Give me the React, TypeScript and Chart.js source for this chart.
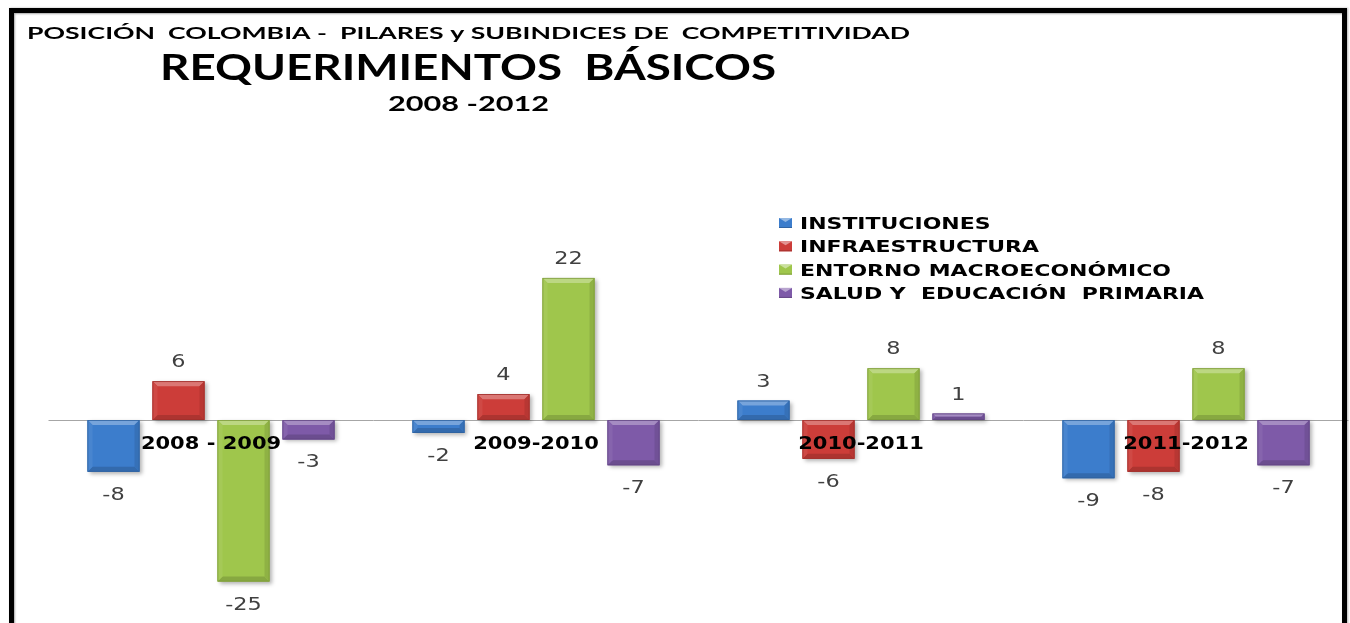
import React, { useEffect, useRef } from 'react';
import { Chart, registerables } from 'chart.js';
Chart.register(...registerables);

const CATEGORIES = ['2008 - 2009', '2009-2010', '2010-2011', '2011-2012'];
const SERIES_NAMES = ['INSTITUCIONES', 'INFRAESTRUCTURA', 'ENTORNO MACROECONÓMICO', 'SALUD Y  EDUCACIÓN  PRIMARIA'];
const INSTITUCIONES = [-8, -2, 3, -9];
const INFRAESTRUCTURA = [6, 4, -6, -8];
const ENTORNO = [-25, 22, 8, 8];
const SALUD = [-3, -7, 1, -7];
const TITLE_1 = 'POSICIÓN  COLOMBIA -  PILARES y SUBINDICES DE  COMPETITIVIDAD';
const TITLE_2 = 'REQUERIMIENTOS  BÁSICOS';
const TITLE_3 = '2008 -2012';

const COLORS = ['#3c7dcc', '#cc3d39', '#9fc64c', '#7e5aa8'];

function mix(hex: string, target: number, amt: number) {
  const n = parseInt(hex.slice(1), 16);
  const r = (n >> 16) & 255, g = (n >> 8) & 255, b = n & 255;
  const f = (c: number) => Math.round(c + (target - c) * amt);
  return `rgb(${f(r)},${f(g)},${f(b)})`;
}
const lighten = (h: string, a: number) => mix(h, 255, a);
const darken = (h: string, a: number) => mix(h, 0, a);

function drawText(ctx: CanvasRenderingContext2D, text: string, x: number, y: number, font: string, color: string, sx: number, align: 'left' | 'center') {
  ctx.save();
  ctx.font = font;
  ctx.fillStyle = color;
  ctx.textBaseline = 'alphabetic';
  ctx.textAlign = 'left';
  const w = ctx.measureText(text).width * sx;
  const x0 = align === 'center' ? x - w / 2 : x;
  ctx.translate(x0, y);
  ctx.scale(sx, 1);
  ctx.fillText(text, 0, 0);
  ctx.restore();
}

function fitText(ctx: CanvasRenderingContext2D, text: string, x: number, y: number, font: string, color: string, width: number) {
  ctx.save();
  ctx.font = font;
  const sx = width / ctx.measureText(text).width;
  ctx.restore();
  drawText(ctx, text, x, y, font, color, sx, 'left');
}

function poly(ctx: CanvasRenderingContext2D, pts: number[][], color: string) {
  ctx.beginPath();
  ctx.moveTo(pts[0][0], pts[0][1]);
  for (let i = 1; i < pts.length; i++) ctx.lineTo(pts[i][0], pts[i][1]);
  ctx.closePath();
  ctx.fillStyle = color;
  ctx.fill();
}

const decorPlugin = {
  id: 'decor',
  beforeDatasetsDraw(chart: any) {
    const ctx = chart.ctx as CanvasRenderingContext2D;
    const { left, right } = chart.chartArea;
    const y0 = Math.round(chart.scales.y.getPixelForValue(0)) + 0.5;
    ctx.save();
    ctx.strokeStyle = '#a6a6a6';
    ctx.lineWidth = 1;
    ctx.beginPath();
    ctx.moveTo(left, y0);
    ctx.lineTo(right, y0);
    ctx.stroke();
    ctx.restore();
    ctx.save();
    ctx.shadowColor = 'rgba(0,0,0,0.3)';
    ctx.shadowBlur = 4;
    ctx.shadowOffsetX = 2;
    ctx.shadowOffsetY = 2;
  },
  afterDatasetsDraw(chart: any) {
    const ctx = chart.ctx as CanvasRenderingContext2D;
    ctx.restore();
    chart.data.datasets.forEach((ds: any, di: number) => {
      const meta = chart.getDatasetMeta(di);
      const base = COLORS[di];
      meta.data.forEach((el: any, i: number) => {
        const p = el.getProps(['x', 'y', 'base', 'width'], true);
        const l = p.x - p.width / 2, r = p.x + p.width / 2;
        const t = Math.min(p.y, p.base), b = Math.max(p.y, p.base);
        const h = b - t;
        const s = Math.min(5, h / 2, p.width / 2);
        poly(ctx, [[l, t], [r, t], [r - s, t + s], [l + s, t + s]], lighten(base, 0.3));
        poly(ctx, [[l, b], [r, b], [r - s, b - s], [l + s, b - s]], darken(base, 0.15));
        poly(ctx, [[l, t], [l + s, t + s], [l + s, b - s], [l, b]], lighten(base, 0.06));
        poly(ctx, [[r, t], [r - s, t + s], [r - s, b - s], [r, b]], darken(base, 0.1));
        ctx.save();
        ctx.strokeStyle = darken(base, 0.22);
        ctx.lineWidth = 0.8;
        ctx.strokeRect(l + 0.4, t + 0.4, p.width - 0.8, h - 0.8);
        ctx.restore();
        const v = ds.data[i];
        const ly = v >= 0 ? p.y - 14 : p.y + 28;
        drawText(ctx, String(v), p.x, ly, '17.5px "DejaVu Sans"', '#404040', 1.28, 'center');
      });
    });
    const xs = chart.scales.x;
    const y0 = chart.scales.y.getPixelForValue(0);
    CATEGORIES.forEach((c, i) => {
      drawText(ctx, c, xs.getPixelForValue(i), y0 + 29, 'bold 17.5px "DejaVu Sans"', '#000', 1.2, 'center');
    });
  },
  afterDraw(chart: any) {
    const ctx = chart.ctx as CanvasRenderingContext2D;
    fitText(ctx, TITLE_1, 27, 39, 'bold 17.5px Lato', '#000', 883);
    fitText(ctx, TITLE_2, 160, 79.5, 'bold 36px Lato', '#000', 616);
    fitText(ctx, TITLE_3, 388, 111, 'bold 21px Lato', '#000', 161);
    const lf = 'bold 16.5px "DejaVu Sans"';
    ctx.save();
    ctx.font = lf;
    const sx = 404 / ctx.measureText(SERIES_NAMES[3]).width;
    ctx.restore();
    SERIES_NAMES.forEach((name, i) => {
      const by = 229 + i * 23.3;
      const c = COLORS[i];
      const x = 779, y = by - 11, w = 13, hh = 10;
      ctx.save();
      ctx.fillStyle = c;
      ctx.fillRect(x, y, w, hh);
      poly(ctx, [[x, y], [x + w, y], [x + w / 2, y + 4]], lighten(c, 0.45));
      ctx.fillStyle = darken(c, 0.2);
      ctx.fillRect(x, y + hh - 1, w, 1);
      ctx.restore();
      drawText(ctx, name, 800, by, lf, '#000', sx, 'left');
    });
  },
};

export default function App() {
  const ref = useRef<HTMLCanvasElement>(null);
  useEffect(() => {
    const series = [INSTITUCIONES, INFRAESTRUCTURA, ENTORNO, SALUD];
    const chart = new Chart(ref.current!, {
      type: 'bar',
      data: {
        labels: CATEGORIES,
        datasets: series.map((d, i) => ({
          label: SERIES_NAMES[i],
          data: d,
          backgroundColor: COLORS[i],
          borderWidth: 0,
          barPercentage: 0.8,
          categoryPercentage: 0.8,
        })),
      },
      options: {
        responsive: false,
        animation: false,
        layout: { padding: { left: 48.5, right: 1.5, top: 226.2, bottom: 9.2 } },
        plugins: { legend: { display: false }, title: { display: false }, tooltip: { enabled: false } },
        scales: {
          x: { display: false, offset: true },
          y: { display: false, min: -30, max: 30 },
        },
      },
      plugins: [decorPlugin],
    });
    return () => chart.destroy();
  }, []);
  return (
    <div style={{ position: 'absolute', left: 0, top: 0, width: 1350, height: 623, overflow: 'hidden', background: '#fff' }}>
      <canvas ref={ref} width={1350} height={623} style={{ position: 'absolute', left: 0, top: 0, width: 1350, height: 623 }} />
      <div style={{ position: 'absolute', left: 9, top: 8, width: 1338, height: 700, border: '5px solid #000', borderBottom: 'none', boxSizing: 'border-box', boxShadow: 'inset 1px 1px 2px rgba(0,0,0,0.35), 1px 0 2px rgba(0,0,0,0.3)' }} />
    </div>
  );
}
